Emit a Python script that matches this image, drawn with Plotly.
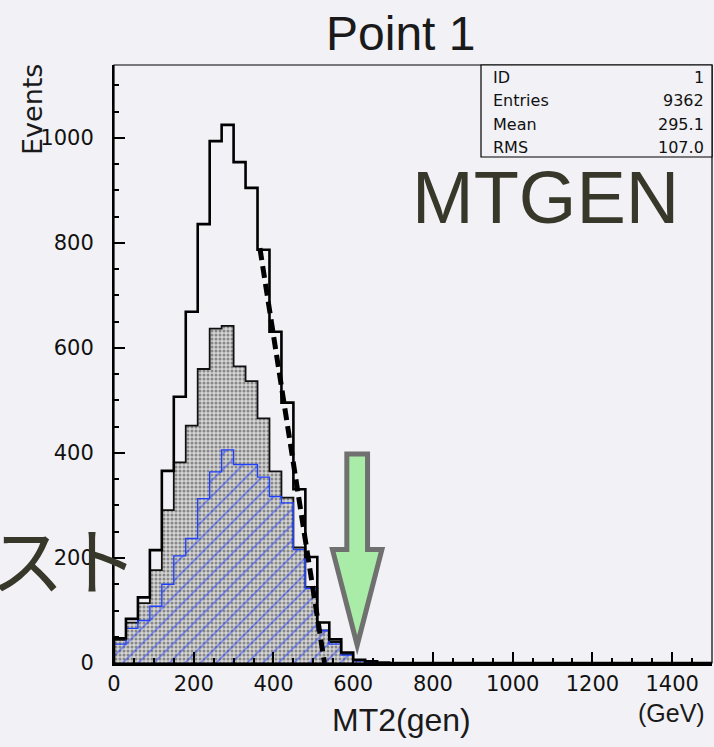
import plotly.graph_objects as go

# ---------------- data (30 GeV bins starting at 0) ----------------
bin_width = 30
total_counts = [47, 84, 125, 215, 366, 507, 669, 836, 994, 1025, 954, 905, 787, 631,
                496, 331, 202, 77, 45, 20, 6, 3, 1]
grey_counts = [44, 77, 114, 177, 291, 382, 452, 560, 637, 642, 565, 537, 466, 365,
               315, 220, 145, 62, 40, 17, 5, 2, 0]
blue_counts = [36, 66, 81, 108, 150, 204, 237, 313, 364, 406, 378, 378, 354, 317,
               305, 216, 142, 62, 36, 15, 4, 1, 0]
fit_x = [366, 528]
fit_y = [790, 0]
x_tick_vals = [0, 200, 400, 600, 800, 1000, 1200, 1400]
y_tick_vals = [0, 200, 400, 600, 800, 1000]
stats_labels = ["ID", "Entries", "Mean", "RMS"]
stats_values = ["1", "9362", "295.1", "107.0"]
endpoint_gev = 610  # arrow marking the MT2 endpoint

X_MAX = 1500
Y_MAX = 1139

W, H = 714, 747
L, R, T, B = 114, 2, 65, 84
PW, PH = W - L - R, H - T - B
BG = "#f1f1f6"


def px(x, y):
    return (x - L) / PW, (H - B - y) / PH


def step_xy(counts):
    xs = [0]
    ys = [0]
    for i, c in enumerate(counts):
        xs.append(i * bin_width)
        ys.append(c)
    xs.append(len(counts) * bin_width)
    ys.append(0)
    xs.append(X_MAX)
    ys.append(0)
    return xs, ys


fig = go.Figure()

gx, gy = step_xy(grey_counts)
fig.add_trace(go.Scatter(
    x=gx, y=gy, mode="lines", line=dict(shape="hv", color="#111", width=1.8),
    fill="tozeroy", fillcolor="#c9c9c9",
    fillpattern=dict(shape=".", bgcolor="#d4d4d4", fgcolor="#3a3a3a", size=4, solidity=0.45),
    hoverinfo="skip", showlegend=False))

bx, by = step_xy(blue_counts)
fig.add_trace(go.Scatter(
    x=bx, y=by, mode="lines", line=dict(shape="hv", color="#2040ff", width=1.4),
    fill="tozeroy", fillcolor="rgba(0,0,0,0)",
    fillpattern=dict(shape="/", bgcolor="rgba(0,0,0,0)", fgcolor="#1a38ff", size=11, solidity=0.16),
    hoverinfo="skip", showlegend=False))

tx, ty = step_xy(total_counts)
fig.add_trace(go.Scatter(
    x=tx, y=ty, mode="lines", line=dict(shape="hv", color="#000", width=2.6),
    hoverinfo="skip", showlegend=False))

fig.add_trace(go.Scatter(
    x=fit_x, y=fit_y, mode="lines", line=dict(color="#000", width=5, dash="12px,6px"),
    hoverinfo="skip", showlegend=False))

# green arrow pointing at the endpoint
shaft_half, head_half = 26, 62
shaft_top, head_top, tip_y = 398, 216, 34
ax = [endpoint_gev - shaft_half, endpoint_gev + shaft_half, endpoint_gev + shaft_half,
      endpoint_gev + head_half, endpoint_gev, endpoint_gev - head_half,
      endpoint_gev - shaft_half]
ay = [shaft_top, shaft_top, head_top, head_top, tip_y, head_top, head_top]
path = "M " + " L ".join(f"{a},{b}" for a, b in zip(ax, ay)) + " Z"
fig.add_shape(type="path", path=path, xref="x", yref="y",
              line=dict(color="#707070", width=5), fillcolor="#a8eca8", layer="above")

# frame
fig.add_shape(type="rect", xref="paper", yref="paper", x0=0, x1=1, y0=0, y1=1,
              line=dict(color="#000", width=1.2), layer="above")

# stats box
sx0, sy0 = px(481, 65)
sx1, sy1 = px(712, 157)
fig.add_shape(type="rect", xref="paper", yref="paper", x0=sx0, x1=sx1, y0=sy1, y1=sy0,
              line=dict(color="#000", width=1.2), fillcolor=BG, layer="above")

annotations = []
for i, (lab, val) in enumerate(zip(stats_labels, stats_values)):
    yy = 77 + i * 23.5
    lx, ly = px(491, yy)
    rx, _ = px(706, yy)
    annotations.append(dict(x=lx, y=ly, xref="paper", yref="paper", text=lab, showarrow=False,
                            xanchor="left", yanchor="middle",
                            font=dict(family="DejaVu Sans", size=16, color="#111")))
    annotations.append(dict(x=rx, y=ly, xref="paper", yref="paper", text=val, showarrow=False,
                            xanchor="right", yanchor="middle",
                            font=dict(family="DejaVu Sans", size=16, color="#111")))


def add_text(text, x, y, size, family, color="#1a1a1a", angle=0, xanchor="center"):
    a, b = px(x, y)
    annotations.append(dict(x=a, y=b, xref="paper", yref="paper", text=text, showarrow=False,
                            xanchor=xanchor, yanchor="middle", textangle=angle,
                            font=dict(family=family, size=size, color=color)))


add_text("Point 1", 400, 33, 48, "Liberation Sans")
add_text("Events", 33, 110, 27, "DejaVu Sans", angle=-90)
add_text("MT2(gen)", 401, 720, 32, "Liberation Sans")
add_text("(GeV)", 671, 713, 25, "Liberation Sans")
add_text("MTGEN", 545, 198, 74, "Liberation Sans", color="#38382a")
add_text("スト", 64, 556, 74, "Noto Sans CJK JP", color="#38382a")

fig.update_layout(
    width=W, height=H, autosize=False,
    margin=dict(l=L, r=R, t=T, b=B, pad=0),
    paper_bgcolor=BG, plot_bgcolor=BG,
    showlegend=False,
    annotations=annotations,
    xaxis=dict(range=[0, X_MAX], tickvals=x_tick_vals, ticks="inside", ticklen=11,
               tickwidth=1.6, tickcolor="#000", showgrid=False, zeroline=False,
               showline=True, linecolor="#000", linewidth=3,
               tickfont=dict(family="DejaVu Sans", size=21, color="#111"),
               minor=dict(dtick=50, ticks="inside", ticklen=5, tickwidth=1.6,
                          tickcolor="#000", showgrid=False)),
    yaxis=dict(range=[0, Y_MAX], tickvals=y_tick_vals, ticks="inside", ticklen=11,
               tickwidth=1.6, tickcolor="#000", showgrid=False, zeroline=False,
               showline=True, linecolor="#000", linewidth=2,
               ticklabelstandoff=14,
               tickfont=dict(family="DejaVu Sans", size=21, color="#111"),
               minor=dict(dtick=50, ticks="inside", ticklen=5, tickwidth=1.6,
                          tickcolor="#000", showgrid=False)),
)

fig.write_html("out.html",
               config={"displayModeBar": False},
               post_script="document.body.style.margin='0px';"
                           "document.body.style.background='" + BG + "';")
